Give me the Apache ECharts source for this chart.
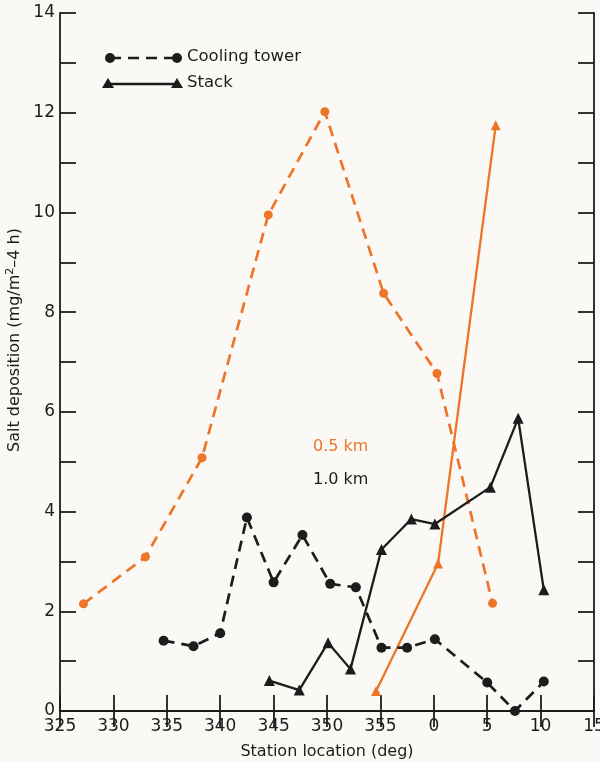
<!DOCTYPE html>
<html>
<head>
<meta charset="utf-8">
<style>
html,body{margin:0;padding:0;background:#fbf9f5;}
#chart{width:600px;height:762px;}
</style>
<script src="https://cdn.jsdelivr.net/npm/echarts@6/dist/echarts.min.js"></script>
</head>
<body>
<div id="chart"></div>
<script>
// Station location in degrees as printed on the axis (wraps 355 -> 0 -> 10)
const towerNearX = [327.2, 333.0, 338.3, 344.5, 349.8, 355.3, 0.3, 5.5];
const towerNearY = [2.15, 3.09, 5.08, 9.95, 12.02, 8.38, 6.77, 2.16];

const stackNearX = [354.6, 0.4, 5.8];
const stackNearY = [0.40, 2.96, 11.75];

const towerFarX = [334.7, 337.5, 340.0, 342.5, 345.0, 347.7, 350.3, 352.7, 355.1, 357.5, 0.1, 5.0, 7.6, 10.3];
const towerFarY = [1.41, 1.30, 1.56, 3.88, 2.58, 3.53, 2.55, 2.48, 1.27, 1.27, 1.44, 0.57, 0.00, 0.59];

const stackFarX = [344.6, 347.4, 350.1, 352.2, 355.1, 357.9, 0.1, 5.3, 7.9, 10.3];
const stackFarY = [0.61, 0.42, 1.37, 0.84, 3.24, 3.85, 3.75, 4.49, 5.87, 2.43];

const xTickLabels = ['325','330','335','340','345','350','355','0','5','10','15'];

const ORANGE = '#ee7428';
const BLACK = '#1c1c1c';
const FONT = '"DejaVu Sans", Verdana, sans-serif';

function unwrap(d){ return d < 180 ? d + 360 : d; }
function pairs(xs, ys){ return xs.map((x,i)=>[unwrap(x), ys[i]]); }

const chart = echarts.init(document.getElementById('chart'));

const xCommon = {
  type:'value', min:325, max:375, interval:5,
  axisLine:{show:true, lineStyle:{color:BLACK, width:1.8}},
  axisTick:{show:true, inside:true, length:16, lineStyle:{color:BLACK, width:1.8}},
  splitLine:{show:false}
};
const yCommon = {
  type:'value', min:0, max:14, interval:1,
  axisLine:{show:true, lineStyle:{color:BLACK, width:1.8}},
  axisTick:{show:true, inside:true, length:16, lineStyle:{color:BLACK, width:1.8}},
  splitLine:{show:false}
};

function lineSeries(name, xs, ys, color, dashed, symbol, size){
  return {
    name, type:'line', xAxisIndex:0, yAxisIndex:0,
    data: pairs(xs, ys),
    symbol, symbolSize:size, showSymbol:true,
    lineStyle:{color, width: dashed ? 2.7 : 2.3, type: dashed ? [11,7] : 'solid'},
    itemStyle:{color},
    animation:false, z:3
  };
}

const option = {
  backgroundColor:'#fbf9f5',
  animation:false,
  grid:{left:60, right:6, top:13, bottom:51, containLabel:false, outerBoundsMode:'none'},
  xAxis:[
    Object.assign({}, xCommon, {
      position:'bottom',
      name:'Station location (deg)', nameLocation:'middle', nameGap:33,
      nameTextStyle:{fontFamily:FONT, fontSize:16, color:BLACK},
      axisLabel:{show:true, margin:7, fontFamily:FONT, fontSize:17, color:BLACK,
        formatter:(v)=> xTickLabels[Math.round((v-325)/5)]}
    }),
    Object.assign({}, xCommon, {position:'top', axisLabel:{show:false}})
  ],
  yAxis:[
    Object.assign({}, yCommon, {
      position:'left',
      name:'{a|Salt deposition (mg/m}{s|2}{a|–4 h)}', nameLocation:'middle', nameGap:35, nameRotate:90,
      nameTextStyle:{fontFamily:FONT, fontSize:16, color:BLACK, padding:[0,0,0,44],
        rich:{a:{fontFamily:FONT, fontSize:16, color:BLACK}, s:{fontFamily:FONT, fontSize:11, color:BLACK, verticalAlign:'top', padding:[0,0,8,0]}}},
      axisLabel:{show:true, margin:5, fontFamily:FONT, fontSize:17, color:BLACK,
        formatter:(v)=> (v % 2 === 0 ? String(v) : '')}
    }),
    Object.assign({}, yCommon, {position:'right', axisLabel:{show:false}})
  ],
  series:[
    lineSeries('Cooling tower 0.5 km', towerNearX, towerNearY, ORANGE, true, 'circle', 9),
    lineSeries('Stack 0.5 km', stackNearX, stackNearY, ORANGE, false, 'triangle', 10),
    lineSeries('Cooling tower 1.0 km', towerFarX, towerFarY, BLACK, true, 'circle', 10),
    lineSeries('Stack 1.0 km', stackFarX, stackFarY, BLACK, false, 'triangle', 11)
  ],
  graphic:[
    // legend: cooling tower
    {type:'line', shape:{x1:110, y1:58, x2:177, y2:58}, style:{stroke:BLACK, lineWidth:2.7, lineDash:[11,7]}},
    {type:'circle', shape:{cx:110, cy:58, r:5}, style:{fill:BLACK}},
    {type:'circle', shape:{cx:177, cy:58, r:5}, style:{fill:BLACK}},
    {type:'text', left:187, top:48, style:{text:'Cooling tower', font:'16.5px '+FONT, fill:BLACK}},
    // legend: stack
    {type:'line', shape:{x1:108, y1:84, x2:177, y2:84}, style:{stroke:BLACK, lineWidth:2.3}},
    {type:'polygon', shape:{points:[[108,78],[102,88],[114,88]]}, style:{fill:BLACK}},
    {type:'polygon', shape:{points:[[177,78],[171,88],[183,88]]}, style:{fill:BLACK}},
    {type:'text', left:187, top:74, style:{text:'Stack', font:'16.5px '+FONT, fill:BLACK}},
    // distance labels
    {type:'text', left:313, top:439, style:{text:'0.5 km', font:'16px '+FONT, fill:ORANGE}},
    {type:'text', left:313, top:472, style:{text:'1.0 km', font:'16px '+FONT, fill:BLACK}}
  ]
};
chart.setOption(option);
</script>
</body>
</html>
